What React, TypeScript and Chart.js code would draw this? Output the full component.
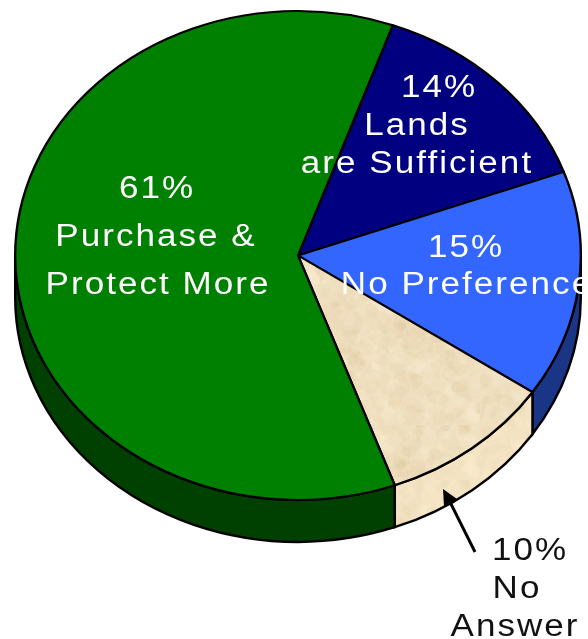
import React, { useEffect, useRef } from "react";
import { Chart, registerables } from "chart.js";

Chart.register(...registerables);

const categories = ["Lands are Sufficient", "No Preference", "No Answer", "Purchase & Protect More"];
const shares = [14, 15, 10, 61];
const topColors = ["#000080", "#3366ff", "#efe0c0", "#008000"];
const wallColors = ["#000040", "#1a3585", "#f4e4c6", "#004000"];
const whiteLabels: [string, number, number][] = [
  ["61%", 157, 198],
  ["Purchase &", 156, 246],
  ["Protect More", 158, 294],
  ["14%", 439, 97],
  ["Lands", 417, 135],
  ["are Sufficient", 417, 173],
  ["15%", 466, 257],
  ["No Preference", 467, 294],
];
const blackLabels: [string, number, number][] = [
  ["10%", 530, 560],
  ["No", 517, 598],
  ["Answer", 515, 636],
];

const FONT = '31px "Liberation Sans", Arial, sans-serif';
const TEXT_STRETCH = 1.13;
const LETTER_GAP = "1.8px";
const SQUASH = 245.5 / 284;
const CENTER_Y = 255.5;
const DEPTH = 42;

function makeTexture(base: string): CanvasPattern | string {
  const c = document.createElement("canvas");
  c.width = 160;
  c.height = 160;
  const g = c.getContext("2d");
  if (!g) return base;
  g.fillStyle = base;
  g.fillRect(0, 0, 160, 160);
  let seed = 1234;
  const next = () => {
    seed = (seed * 16807) % 2147483647;
    return seed / 2147483647;
  };
  const tints = ["rgba(255,245,215,0.16)", "rgba(215,190,150,0.13)", "rgba(240,210,185,0.12)"];
  for (let i = 0; i < 420; i++) {
    g.fillStyle = tints[i % 3];
    g.beginPath();
    g.ellipse(next() * 160, next() * 160, 3 + next() * 9, 2 + next() * 6, next() * 3, 0, Math.PI * 2);
    g.fill();
  }
  return g.createPattern(c, "repeat") || base;
}

const pie3d = {
  id: "pie3d",
  beforeDatasetsDraw(chart: any) {
    const ctx = chart.ctx;
    const arcs = chart.getDatasetMeta(0).data;
    ctx.save();
    ctx.lineWidth = 2.4;
    ctx.strokeStyle = "#000";
    arcs.forEach((arc: any, i: number) => {
      const a = Math.max(arc.startAngle, 0);
      const b = Math.min(arc.endAngle, Math.PI);
      if (b <= a) return;
      const rx = arc.outerRadius;
      const ry = rx * SQUASH;
      ctx.beginPath();
      ctx.ellipse(arc.x, CENTER_Y, rx, ry, 0, a, b);
      ctx.ellipse(arc.x, CENTER_Y + DEPTH, rx, ry, 0, b, a, true);
      ctx.closePath();
      ctx.fillStyle = i === 2 ? chart.data.datasets[0].backgroundColor[2] : wallColors[i];
      ctx.fill();
      if (i === 2) {
        ctx.fillStyle = "rgba(255,240,205,0.3)";
        ctx.fill();
      }
      ctx.stroke();
    });
    ctx.restore();
    ctx.save();
    const cy = arcs[0].y;
    ctx.translate(0, CENTER_Y);
    ctx.scale(1, SQUASH);
    ctx.translate(0, -cy);
  },
  afterDatasetsDraw(chart: any) {
    chart.ctx.restore();
  },
  afterDraw(chart: any) {
    const ctx = chart.ctx;
    ctx.save();
    ctx.strokeStyle = "#000";
    ctx.fillStyle = "#000";
    ctx.lineWidth = 3;
    ctx.beginPath();
    ctx.moveTo(475, 552);
    ctx.lineTo(449, 500);
    ctx.stroke();
    ctx.beginPath();
    ctx.moveTo(443, 489);
    ctx.lineTo(457, 499);
    ctx.lineTo(444, 506);
    ctx.closePath();
    ctx.fill();
    ctx.font = FONT;
    ctx.letterSpacing = LETTER_GAP;
    ctx.textAlign = "center";
    ctx.textBaseline = "alphabetic";
    const put = (rows: [string, number, number][], color: string) => {
      ctx.fillStyle = color;
      rows.forEach(([t, x, y]) => {
        ctx.save();
        ctx.translate(x, y);
        ctx.scale(TEXT_STRETCH, 1);
        ctx.fillText(t, 0, 0);
        ctx.restore();
      });
    };
    put(whiteLabels, "#ffffff");
    put(blackLabels, "#111111");
    ctx.restore();
  },
};

export default function App() {
  const ref = useRef<HTMLCanvasElement>(null);
  useEffect(() => {
    if (!ref.current) return;
    const colors: any[] = [...topColors];
    colors[2] = makeTexture(topColors[2]);
    const chart = new Chart(ref.current, {
      type: "pie",
      data: {
        labels: categories,
        datasets: [
          {
            data: shares,
            backgroundColor: colors,
            borderColor: "#000000",
            borderWidth: 2.4,
            borderJoinStyle: "round",
            clip: false,
          } as any,
        ],
      },
      options: {
        responsive: false,
        animation: false,
        rotation: 19.6,
        layout: { padding: { left: 14, right: 6, top: 0, bottom: 71 } },
        plugins: { legend: { display: false }, tooltip: { enabled: false } },
      },
      plugins: [pie3d],
    } as any);
    return () => chart.destroy();
  }, []);
  return (
    <div style={{ position: "absolute", left: 0, top: 0, width: 588, height: 639, background: "#fff", overflow: "hidden" }}>
      <canvas ref={ref} width={588} height={639} style={{ display: "block" }} />
    </div>
  );
}
